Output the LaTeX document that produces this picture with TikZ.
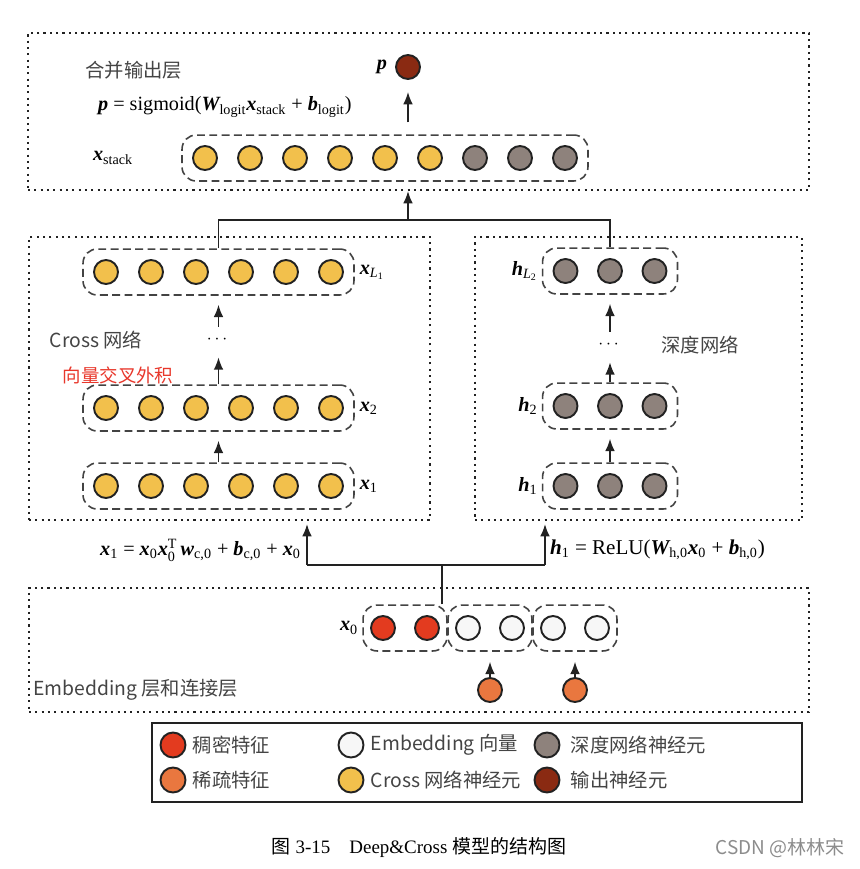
\documentclass[tikz,border=0pt]{standalone}
\usepackage{fontspec}
\usepackage{amsmath}
\setmainfont{Liberation Serif}
\newfontfamily\cjk{Noto Sans CJK SC}
\usepackage{tikz}
\usetikzlibrary{positioning,fit,calc,arrows.meta}
\definecolor{ink}     {HTML}{222222}
\definecolor{crossc}  {HTML}{F2C04C}
\definecolor{deepc}   {HTML}{8E827C}
\definecolor{outc}    {HTML}{8A2A12}
\definecolor{densec}  {HTML}{E33B1F}
\definecolor{sparsec} {HTML}{E9773F}
\definecolor{embc}    {HTML}{F7F7F7}
\definecolor{softink} {HTML}{444444}
\definecolor{hint}    {HTML}{E8372B}
\newcommand{\vb}[1]{{\bfseries\itshape #1}}
\tikzset{
  >={Latex[length=7pt,width=5.5pt]},
  % --- nodes
  neu/.style   = {circle, draw=ink, line width=1.1pt, minimum size=0.48cm, inner sep=0pt},
  cr/.style    = {neu, fill=crossc},
  dp/.style    = {neu, fill=deepc},
  grp/.style   = {draw=ink!85, rounded corners=8pt, inner xsep=0.2cm, inner ysep=0.2cm,
                  line width=0.9pt, dash pattern=on 4.5pt off 2.5pt},
  layer/.style = {draw=ink, line width=1.2pt, dash pattern=on 1.2pt off 2.4pt, inner sep=0pt},
  fml/.style   = {font=\fontsize{11.5}{13}\selectfont, inner sep=1pt},
  lbl/.style   = {font=\cjk\fontsize{11}{13}\selectfont, text=softink, inner sep=0pt},
  dots/.style  = {inner sep=0pt, minimum height=0.52cm},
  % --- edges
  arr/.style   = {->, line width=0.9pt, draw=ink},
  wire/.style  = {line width=0.9pt, draw=ink},
}
\begin{document}
\begin{tikzpicture}[x=0.02cm, y=-0.02cm]
  \useasboundingbox (0,0) rectangle (859,869);

  % --- layer frames
  \node[layer, fit={(28,33) (809,190)}] (top) {};
  \node[layer, fit={(29,237) (430,520)}] (layL) {};
  \node[layer, fit={(475,237) (802,520)}] (layR) {};
  \node[layer, fit={(29,588) (809,712)}] (bot) {};

  % --- output layer
  \node[lbl, anchor=west] (tlab) at (85,70) {合并输出层};
  \node[neu, fill=outc] (p) at (408,67) {};
  \node[fml, left=0.12cm of p] (pl) {\vb{p}};
  \node[fml, anchor=west] (pf) at (96,107) {\vb{p} = sigmoid(\vb{W}\textsubscript{logit}\vb{x}\textsubscript{stack} + \vb{b}\textsubscript{logit})};
  \foreach \i in {1,...,6} \node[cr] (s\i) at ({160+45*\i},158) {};
  \foreach \i in {7,8,9} \node[dp] (s\i) at ({160+45*\i},158) {};
  \node[grp, fit=(s1)(s9)] (xs) {};
  \node[fml, anchor=west] (xsl) at (91,158) {\vb{x}\textsubscript{stack}};
  \draw[arr, shorten <=0.24cm, shorten >=0.24cm] (xs.north -| p) -- (p);

  % --- cross network
  \foreach \r/\y in {a/486,b/408,c/272}
    \foreach \i in {1,...,6} \node[cr] (\r\i) at ({61+45*\i},\y) {};
  \node[grp, fit=(a1)(a6)] (x1) {};
  \node[grp, fit=(b1)(b6)] (x2) {};
  \node[grp, fit=(c1)(c6)] (xL) {};
  \node[fml, right=0.06cm of x1] {\vb{x}\textsubscript{1}};
  \node[fml, right=0.06cm of x2] {\vb{x}\textsubscript{2}};
  \node[fml, right=0.06cm of xL] {\vb{x}\textsubscript{\textit{L}\textsubscript{1}}};
  \node[dots] (dl) at (x2.north |- 0,340) {$\cdots$};
  \draw[arr, shorten >=0.18cm] (x1.north) -- (x2.south);
  \draw[arr, shorten >=0.08cm] (x2.north) -- (dl.south);
  \draw[arr, shorten >=0.18cm] (dl.north) -- (xL.south);
  \node[lbl] (crl) at (96,340) {Cross 网络};
  \node[lbl, text=hint, font=\cjk\fontsize{10.5}{12}\selectfont] (hl) at (118,375) {向量交叉外积};

  % --- deep network
  \foreach \r/\y in {d/486,e/406,f/271}
    \foreach \i in {1,2,3} \node[dp] (\r\i) at ({521+44.5*\i},\y) {};
  \node[grp, fit=(d1)(d3)] (h1) {};
  \node[grp, fit=(e1)(e3)] (h2) {};
  \node[grp, fit=(f1)(f3)] (hL) {};
  \node[fml, left=0.04cm of h1] {\vb{h}\textsubscript{1}};
  \node[fml, left=0.04cm of h2] {\vb{h}\textsubscript{2}};
  \node[fml, left=0.04cm of hL] {\vb{h}\textsubscript{\textit{L}\textsubscript{2}}};
  \node[dots] (dr) at (h2.north |- 0,345) {$\cdots$};
  \draw[arr, shorten >=0.18cm] (h1.north) -- (h2.south);
  \draw[arr, shorten >=0.08cm] (h2.north) -- (dr.south);
  \draw[arr, shorten >=0.18cm] (dr.north) -- (hL.south);
  \node[lbl] (dpl) at (700,345) {深度网络};

  % --- merge into output layer
  \coordinate (m) at (408,220);
  \draw[wire] (xL.north) |- (m) -| (hL.north);
  \draw[arr] (m) -- (top.south -| m);

  % --- embedding layer
  \node[neu, fill=densec] (r1) at (383,628) {};
  \node[neu, fill=densec] (r2) at (427,628) {};
  \node[neu, fill=embc] (w1) at (468,628) {};
  \node[neu, fill=embc] (w2) at (512,628) {};
  \node[neu, fill=embc] (w3) at (553,628) {};
  \node[neu, fill=embc] (w4) at (597,628) {};
  \node[grp, inner xsep=0.14cm, fit=(r1)(r2)] (e1) {};
  \node[grp, inner xsep=0.14cm, fit=(w1)(w2)] (e2) {};
  \node[grp, inner xsep=0.14cm, fit=(w3)(w4)] (e3) {};
  \node[fml, left=0.04cm of e1] (x0l) {\vb{x}\textsubscript{0}};
  \node[neu, fill=sparsec] (o1) at (e2.south |- 0,690) {};
  \node[neu, fill=sparsec] (o2) at (e3.south |- 0,690) {};
  \draw[arr, shorten >=0.2cm] (o1) -- (e2.south);
  \draw[arr, shorten >=0.2cm] (o2) -- (e3.south);
  \node[lbl, anchor=west] (bl) at (33,690) {Embedding 层和连接层};

  % --- embedding to both towers
  \coordinate (j) at (442,565);
  \coordinate (ja) at (307,565);
  \coordinate (jb) at (545,565);
  \draw[wire] (e1.north -| j) -- (j);
  \draw[arr, shorten >=0.06cm] (ja) -- (ja |- layL.south);
  \draw[wire] (ja) -- (jb);
  \draw[arr, shorten >=0.06cm] (jb) -- (jb |- layR.south);
  \node[fml, anchor=east] (fx) at (303,550) {\vb{x}\textsubscript{1} = \vb{x}\textsubscript{0}\vb{x}$_{\text{0}}^{\text{T}}$\,\vb{w}\textsubscript{c,0} + \vb{b}\textsubscript{c,0} + \vb{x}\textsubscript{0}};
  \node[fml, anchor=west, font=\fontsize{12}{14}\selectfont] (fh) at (548,550) {\vb{h}\textsubscript{1} = ReLU(\vb{W}\textsubscript{h,0}\vb{x}\textsubscript{0} + \vb{b}\textsubscript{h,0})};

  % --- legend
  \node[draw=ink, line width=1.2pt, inner sep=0pt, fit={(152,723) (802,802)}] (leg) {};
  \node[neu, minimum size=0.5cm, fill=densec]  (l1) at (173,745) {};
  \node[neu, minimum size=0.5cm, fill=sparsec] (l2) at (173,780) {};
  \node[neu, minimum size=0.5cm, fill=embc]    (l3) at (351,745) {};
  \node[neu, minimum size=0.5cm, fill=crossc]  (l4) at (351,780) {};
  \node[neu, minimum size=0.5cm, fill=deepc]   (l5) at (547,745) {};
  \node[neu, minimum size=0.5cm, fill=outc]    (l6) at (547,780) {};
  \node[lbl, right=0.12cm of l1] {稠密特征};
  \node[lbl, right=0.12cm of l2] {稀疏特征};
  \node[lbl, right=0.12cm of l3] {Embedding 向量};
  \node[lbl, right=0.12cm of l4] {Cross 网络神经元};
  \node[lbl, right=0.2cm of l5] {深度网络神经元};
  \node[lbl, right=0.2cm of l6] {输出神经元};

  % --- caption
  \node[font=\fontsize{10.8}{13}\selectfont] (cap) at (419,848) {{\cjk 图} 3-15\quad Deep\&Cross {\cjk 模型的结构图}};
  \node[font=\cjk\fontsize{10.8}{13}\selectfont, text=black!45] (wm) at (780,848) {CSDN @林林宋};
\end{tikzpicture}
\end{document}
